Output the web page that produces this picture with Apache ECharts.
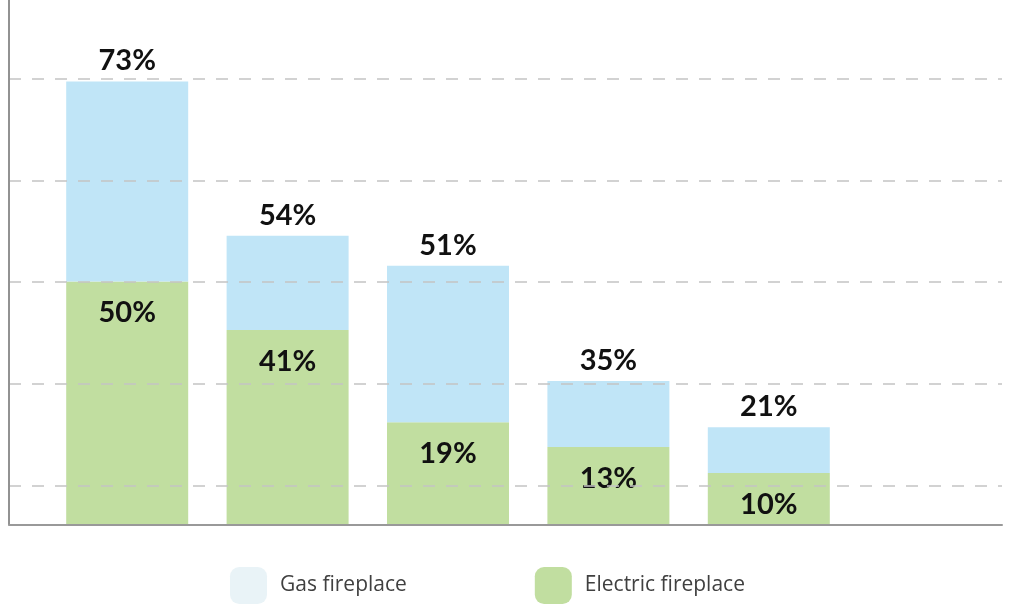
<!DOCTYPE html>
<html><head><meta charset="utf-8">
<script src="https://cdn.jsdelivr.net/npm/echarts@6/dist/echarts.min.js"></script>
<style>html,body{margin:0;padding:0;background:#fff}#chart{width:1011px;height:604px}</style>
</head><body><div id="chart"></div>
<script>
// Data (bar heights, in axis units; labels as printed)
const categories = ['1', '2', '3', '4', '5'];
const seriesNames = ['Electric fireplace', 'Gas fireplace'];
const electricHeights = [47.7, 38.2, 20.1, 15.2, 10.1];
const gasHeights = [39.3, 18.5, 30.7, 13.0, 9.0];
const electricLabels = ['50%', '41%', '19%', '13%', '10%'];
const totalLabels = ['73%', '54%', '51%', '35%', '21%'];

const chart = echarts.init(document.getElementById('chart'), null, {renderer: 'canvas'});
const labelFont = {fontFamily: 'Lato', fontWeight: 'bold', fontSize: 29, color: '#111'};
chart.setOption({
  animation: false,
  backgroundColor: '#fff',
  grid: [
    {left: 9, right: 9, top: 0, bottom: 79.5},
    {left: 47, right: 162, top: 0, bottom: 79.5}
  ],
  xAxis: [
    {gridIndex: 0, type: 'value', min: 0, max: 1, z: 10,
     axisLine: {show: true, onZero: false, lineStyle: {color: '#999', width: 2}},
     axisTick: {show: false}, axisLabel: {show: false}, splitLine: {show: false}},
    {gridIndex: 1, type: 'category', data: categories, show: false}
  ],
  yAxis: [
    {gridIndex: 0, type: 'value', min: -0.386, max: 4.776, minInterval: 1, maxInterval: 1, z: 10,
     axisLine: {show: true, onZero: false, lineStyle: {color: '#929292', width: 2}},
     axisTick: {show: false}, axisLabel: {show: false},
     splitLine: {show: true, showMinLine: false, showMaxLine: false,
       lineStyle: {color: '#c4c4c4', width: 1.5, type: [12, 11]}}},
    {gridIndex: 1, type: 'value', min: 0, max: 103, show: false}
  ],
  legend: {
    left: 230, top: 567, padding: 0, itemWidth: 37, itemHeight: 37, itemGap: 128, icon: 'roundRect',
    selectedMode: false,
    data: [{name: seriesNames[1], itemStyle: {color: '#E9F3F7'}}, {name: seriesNames[0]}],
    textStyle: {fontFamily: 'Open Sans', fontSize: 21, color: '#404040', padding: [0, 0, 0, 8]}
  },
  series: [
    {name: seriesNames[0], type: 'bar', xAxisIndex: 1, yAxisIndex: 1, stack: 't',
     data: electricHeights, barWidth: 122, itemStyle: {color: '#C1DEA0'},
     label: Object.assign({show: true, position: 'insideTop', distance: 17,
       formatter: p => electricLabels[p.dataIndex]}, labelFont)},
    {name: seriesNames[1], type: 'bar', xAxisIndex: 1, yAxisIndex: 1, stack: 't',
     data: gasHeights, barWidth: 122, itemStyle: {color: '#C0E5F7'},
     label: Object.assign({show: true, position: 'top', distance: 6,
       formatter: p => totalLabels[p.dataIndex]}, labelFont)}
  ]
});
</script></body></html>
